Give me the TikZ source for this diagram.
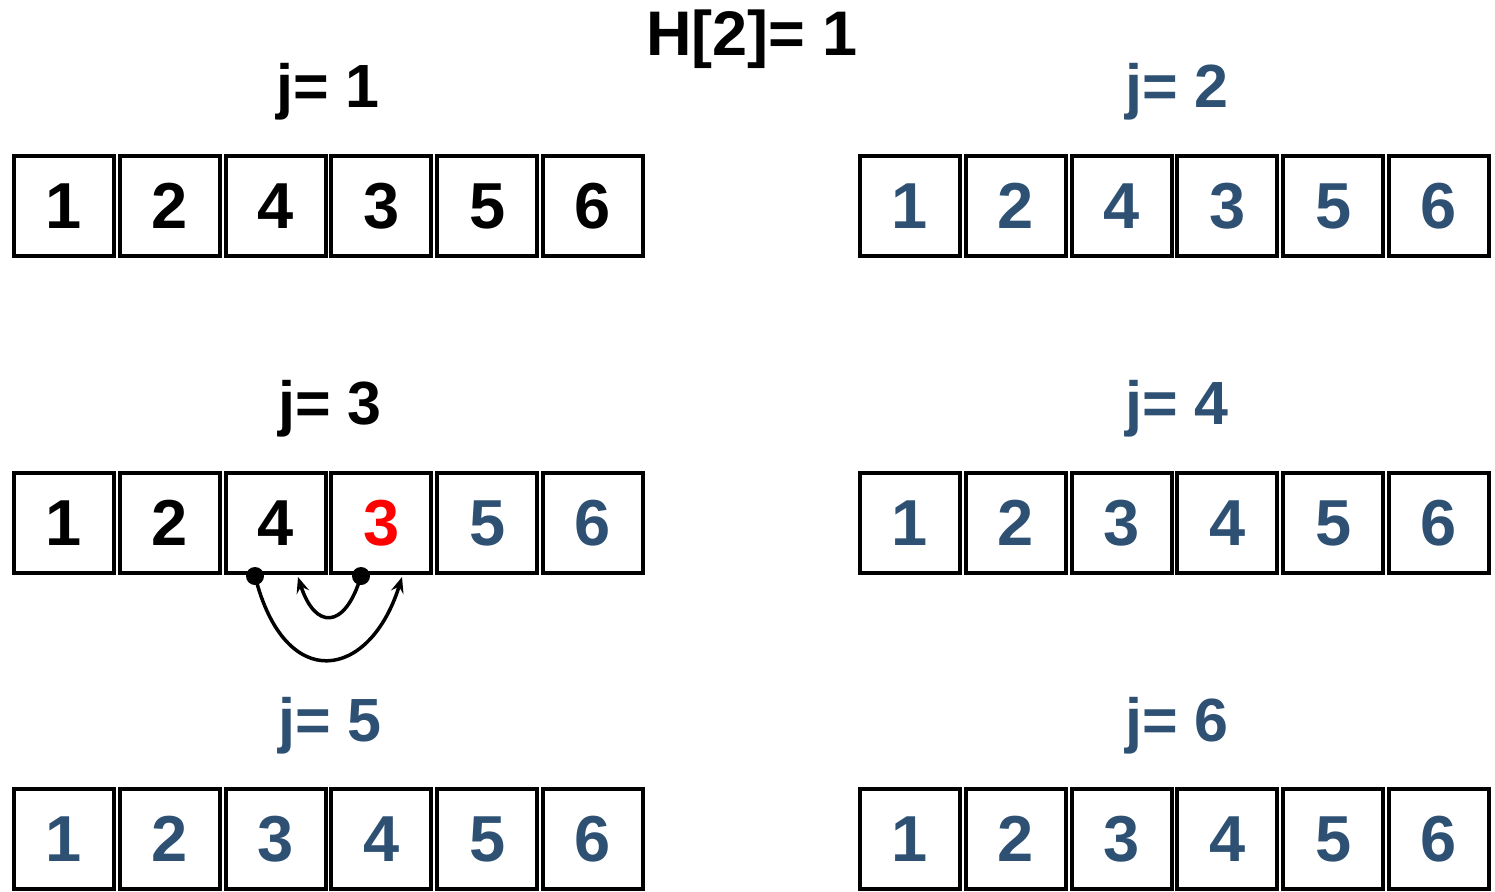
\documentclass[tikz,border=0pt]{standalone}
\usepackage{fontspec}
\setmainfont{Liberation Sans}
\usetikzlibrary{arrows.meta}
\definecolor{cblue}{RGB}{45,80,115}
\definecolor{cred}{RGB}{255,0,0}
\tikzset{
  cell/.style={draw=black, line width=4pt, minimum width=100pt, minimum height=100pt, inner sep=0pt, font=\fontsize{65}{78}\selectfont\bfseries},
  ttl/.style={anchor=base, inner sep=0pt, font=\fontsize{61}{72}\selectfont\bfseries},
  dotnode/.style={circle, fill=black, minimum size=18pt, inner sep=0pt},
  swap/.style={line width=3.5pt, -{Stealth[length=16pt,width=13pt,inset=6pt]}},
}
\begin{document}
\begin{tikzpicture}[x=1pt,y=-1pt]
\useasboundingbox (0,0) rectangle (1495,891);
\node[anchor=base, inner sep=0pt, font=\fontsize{63}{76}\selectfont\bfseries] (H) at (752,56) {H[2]= 1};
% titles
\node[ttl] (t1) at (328,107) {j= 1};
\node[ttl, text=cblue] (t2) at (1177,107) {j= 2};
\node[ttl] (t3) at (330,424) {j= 3};
\node[ttl, text=cblue] (t4) at (1177,424) {j= 4};
\node[ttl, text=cblue] (t5) at (330,741) {j= 5};
\node[ttl, text=cblue] (t6) at (1177,741) {j= 6};
% row 1 left (j=1)
\foreach \v [count=\i from 0] in {1,2,4,3,5,6}
  \node[cell] (a\i) at (64+105.8*\i,206) {\v};
% row 1 right (j=2)
\foreach \v [count=\i from 0] in {1,2,4,3,5,6}
  \node[cell, text=cblue] (b\i) at (910+105.8*\i,206) {\v};
% row 2 left (j=3)
\node[cell] (c0) at (64,523) {1};
\node[cell] (c1) at (64+105.8,523) {2};
\node[cell] (c2) at (64+2*105.8,523) {4};
\node[cell, text=cred] (c3) at (64+3*105.8,523) {3};
\node[cell, text=cblue] (c4) at (64+4*105.8,523) {5};
\node[cell, text=cblue] (c5) at (64+5*105.8,523) {6};
% row 2 right (j=4)
\foreach \v [count=\i from 0] in {1,2,3,4,5,6}
  \node[cell, text=cblue] (d\i) at (910+105.8*\i,523) {\v};
% row 3 left (j=5)
\foreach \v [count=\i from 0] in {1,2,3,4,5,6}
  \node[cell, text=cblue] (e\i) at (64+105.8*\i,839) {\v};
% row 3 right (j=6)
\foreach \v [count=\i from 0] in {1,2,3,4,5,6}
  \node[cell, text=cblue] (f\i) at (910+105.8*\i,839) {\v};
% swap arrows
\node[dotnode] (p1) at (255,576) {};
\node[dotnode] (p2) at (361,576) {};
\coordinate (q1) at (402,577);
\coordinate (q2) at (298,577);
\draw[swap] (p1.center) .. controls (285,695) and (370,680) .. (q1);
\draw[swap] (p2.center) .. controls (345,630) and (315,630) .. (q2);
\end{tikzpicture}
\end{document}
